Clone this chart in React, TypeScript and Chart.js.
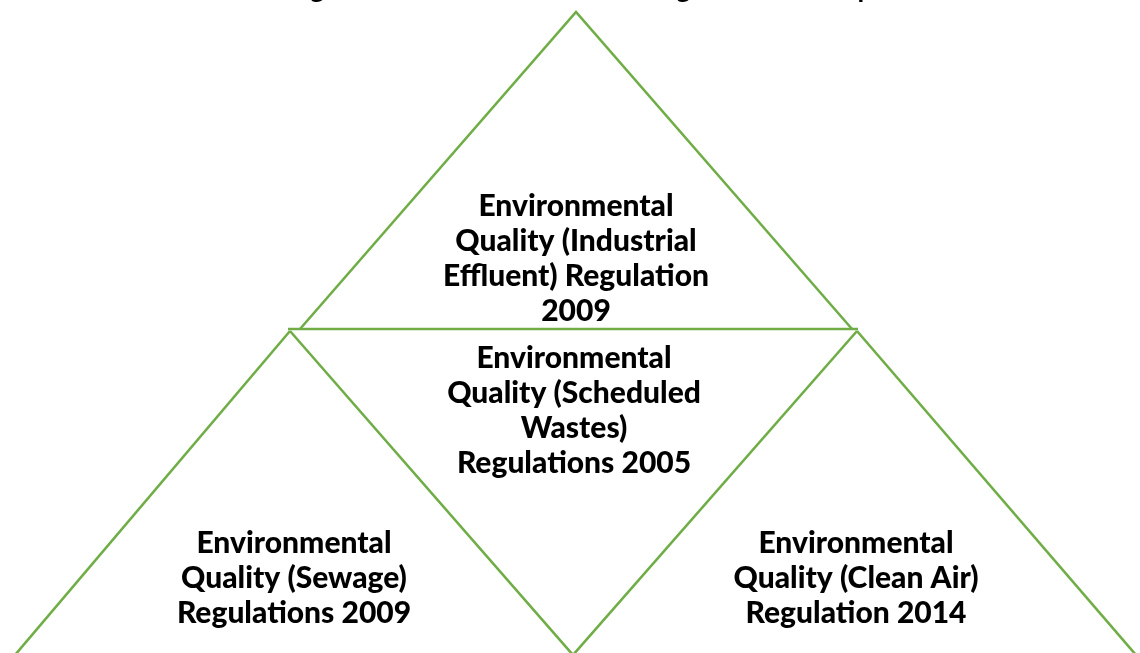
import React, { useEffect, useRef } from "react";
import { Chart, registerables } from "chart.js";

Chart.register(...registerables);

// Edge polylines of the diagram, in a 1140 x 653 drawing space (y downwards)
const topTriangle = [
  { x: 300, y: 329 },
  { x: 576, y: 12 },
  { x: 852, y: 329 },
];
const baseLine = [
  { x: 288, y: 329 },
  { x: 858, y: 329 },
];
const leftOuter = [
  { x: 290, y: 331 },
  { x: 15, y: 655 },
];
const middleV = [
  { x: 290, y: 331 },
  { x: 573, y: 655 },
  { x: 857, y: 331 },
];
const rightOuter = [
  { x: 857, y: 331 },
  { x: 1136, y: 655 },
];

const titleText = "Regulations for Environmental Legal Scheme Map";

const topLines = ["Environmental", "Quality (Industrial", "Effluent) Regulation", "2009"];
const middleLines = ["Environmental", "Quality (Scheduled", "Wastes)", "Regulations 2005"];
const leftLines = ["Environmental", "Quality (Sewage)", "Regulations 2009"];
const rightLines = ["Environmental", "Quality (Clean Air)", "Regulation 2014"];

const labelAnchors = [
  { lines: topLines, x: 576, y: 206 },
  { lines: middleLines, x: 574, y: 358 },
  { lines: leftLines, x: 294, y: 543 },
  { lines: rightLines, x: 856, y: 543 },
];

const GREEN = "#70AD47";
const FONT = "900 30px Lato, 'Open Sans', sans-serif";
const LINE_H = 35;

const labelPlugin = {
  id: "diagramLabels",
  afterDatasetsDraw(chart: any) {
    const { ctx, scales } = chart;
    ctx.save();
    ctx.fillStyle = "#000";
    ctx.font = FONT;
    ctx.textAlign = "center";
    ctx.textBaseline = "middle";
    labelAnchors.forEach((a) => {
      const px = scales.x.getPixelForValue(a.x);
      a.lines.forEach((t, i) => {
        const py = scales.y.getPixelForValue(a.y + i * LINE_H);
        ctx.fillText(t, px, py);
      });
    });
    ctx.font = "bold 27px Lato, 'Open Sans', sans-serif";
    ctx.textBaseline = "alphabetic";
    ctx.fillText(titleText, scales.x.getPixelForValue(576), scales.y.getPixelForValue(-2));
    ctx.restore();
  },
};

export default function App() {
  const ref = useRef<HTMLCanvasElement>(null);
  useEffect(() => {
    document.body.style.margin = "0";
    const mk = (data: any[]) => ({
      data,
      showLine: true,
      borderColor: GREEN,
      backgroundColor: GREEN,
      borderWidth: 2.6,
      pointRadius: 0,
      fill: false,
      tension: 0,
    });
    const chart = new Chart(ref.current as HTMLCanvasElement, {
      type: "scatter",
      data: {
        datasets: [mk(topTriangle), mk(baseLine), mk(leftOuter), mk(middleV), mk(rightOuter)],
      },
      options: {
        animation: false,
        responsive: false,
        maintainAspectRatio: false,
        layout: { padding: 0 },
        plugins: { legend: { display: false }, tooltip: { enabled: false }, title: { display: false } },
        scales: {
          x: { type: "linear", min: 0, max: 1140, display: false },
          y: { type: "linear", min: 0, max: 653, reverse: true, display: false },
        },
      } as any,
      plugins: [labelPlugin],
    });
    return () => chart.destroy();
  }, []);
  return (
    <div style={{ width: 1140, height: 653, overflow: "hidden", background: "#fff" }}>
      <canvas ref={ref} width={1140} height={653} style={{ display: "block" }} />
    </div>
  );
}
